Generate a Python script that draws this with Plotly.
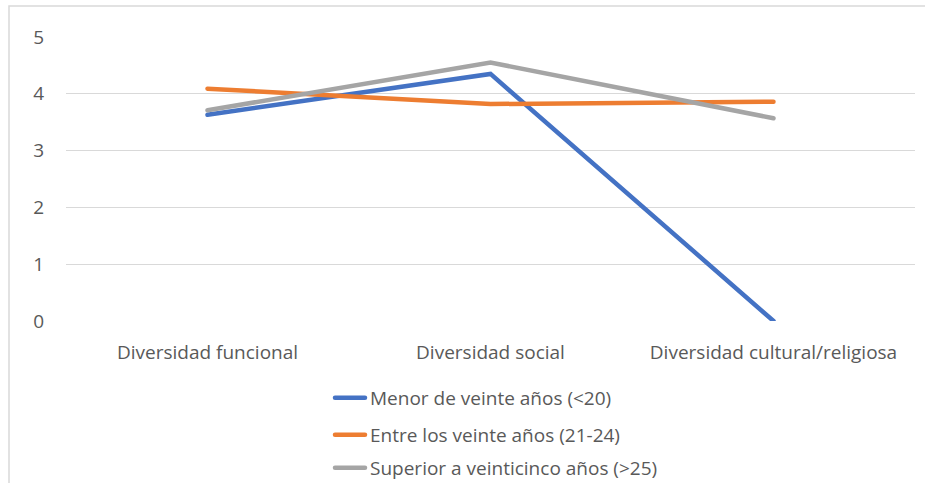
import plotly.graph_objects as go

categories = ["Diversidad funcional", "Diversidad social", "Diversidad cultural/religiosa"]
series_names = ["Menor de veinte años (<20)", "Entre los veinte años (21-24)", "Superior a veinticinco años (>25)"]
menor = [3.63, 4.35, 0.0]
entre = [4.09, 3.82, 3.86]
superior = [3.71, 4.55, 3.57]
y_ticks = [0, 1, 2, 3, 4, 5]

colors = ["#4472C4", "#ED7D31", "#A5A5A5"]
values = [menor, entre, superior]
legends = ["legend", "legend2", "legend3"]

W, H = 925, 483
L, R, T, B = 66, 10, 37, 162

fig = go.Figure()
for name, vals, c, lg in zip(series_names, values, colors, legends):
    fig.add_trace(go.Scatter(x=categories, y=vals, mode="lines", name=name,
                             line=dict(color=c, width=4.5), legend=lg, showlegend=True))

font = dict(family="Open Sans, Noto Sans, sans-serif", size=19, color="#595959")
leg_y = [398, 435, 468]
leg_common = dict(xanchor="left", yanchor="middle", font=font, bgcolor="rgba(0,0,0,0)",
                  itemwidth=30)
pw = W - L - R
ph = H - T - B
def px2paper_y(py):
    return (H - B - py) / ph
def px2paper_x(px):
    return (px - L) / pw

lx = px2paper_x(330)
fig.update_layout(
    width=W, height=H,
    showlegend=True,
    margin=dict(l=L, r=R, t=T, b=B, autoexpand=False),
    paper_bgcolor="white", plot_bgcolor="white",
    font=font,
    xaxis=dict(showgrid=False, showline=False, zeroline=False, ticks="",
               range=[-0.5, 2.5], tickfont=font, ticklabelstandoff=18),
    yaxis=dict(range=[0, 5], tickvals=y_ticks, showgrid=True, gridcolor="#D9D9D9",
               gridwidth=1, zeroline=False, showline=False, ticks="",
               tickfont=font, ticklabelstandoff=21),
    legend=dict(x=lx, y=px2paper_y(leg_y[0]), **leg_common),
    legend2=dict(x=lx, y=px2paper_y(leg_y[1]), **leg_common),
    legend3=dict(x=lx, y=px2paper_y(leg_y[2]), **leg_common),
    shapes=[dict(type="rect", xref="paper", yref="paper",
                 x0=px2paper_x(9), x1=px2paper_x(960),
                 y0=px2paper_y(520), y1=px2paper_y(6),
                 line=dict(color="#D9D9D9", width=1.5), fillcolor="rgba(0,0,0,0)",
                 layer="below")],
)

post = (
    "document.body.style.margin='0px';document.body.style.overflow='hidden';"
    "var s=document.createElement('style');"
    "s.textContent='.scatterlayer path.js-line, .legendlines path{stroke-linecap:round;}';"
    "document.head.appendChild(s);"
)
fig.write_html("out.html", config={"displayModeBar": False}, post_script=post)
